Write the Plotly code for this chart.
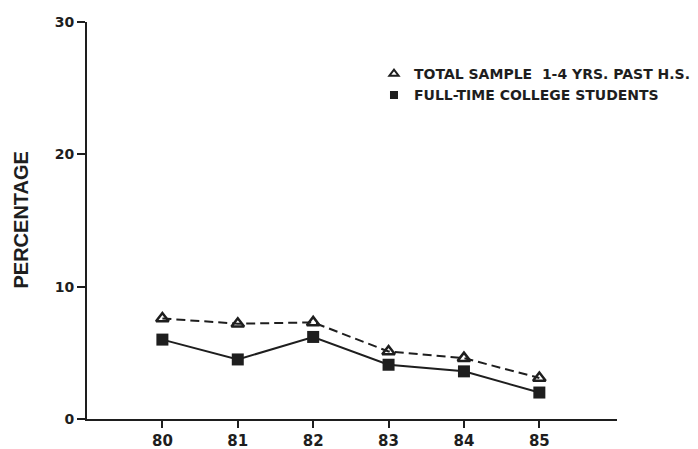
import plotly.graph_objects as go

years = [80, 81, 82, 83, 84, 85]
year_labels = ["80", "81", "82", "83", "84", "85"]
total_sample = [7.6, 7.2, 7.3, 5.1, 4.6, 3.1]
fulltime_college = [6.0, 4.5, 6.2, 4.1, 3.6, 2.0]
y_ticks = [0, 10, 20, 30]
name_total = "TOTAL SAMPLE  1-4 YRS. PAST H.S."
name_college = "FULL-TIME COLLEGE STUDENTS"

INK = "#1e1e1e"
WIDE = "DejaVu Sans"
NARROW = "Liberation Sans"

fig = go.Figure()
fig.add_trace(go.Scatter(
    x=years, y=total_sample, mode="lines+markers", showlegend=False,
    line=dict(color=INK, width=2, dash="9px,5px"),
    marker=dict(symbol="triangle-up-open", size=11, color=INK, line=dict(width=2.5, color=INK)),
))
fig.add_trace(go.Scatter(
    x=years, y=fulltime_college, mode="lines+markers", showlegend=False,
    line=dict(color=INK, width=2),
    marker=dict(symbol="square", size=12, color=INK),
))
# legend-only entries (symbol without line)
fig.add_trace(go.Scatter(
    x=[None], y=[None], mode="markers", name=name_total, legendgroup="a",
    marker=dict(symbol="triangle-up-open", size=8, color=INK, line=dict(width=2, color=INK)),
))
fig.add_trace(go.Scatter(
    x=[None], y=[None], mode="markers", name=name_college, legendgroup="b",
    marker=dict(symbol="square", size=8, color=INK),
))

fig.update_layout(
    width=698, height=449,
    margin=dict(l=87, r=81, t=22, b=30, autoexpand=False),
    paper_bgcolor="white", plot_bgcolor="white",
    font=dict(family=WIDE, color=INK, size=14, weight="bold"),
    showlegend=True,
    legend=dict(
        x=0.5415, y=0.909, xanchor="left", yanchor="top",
        font=dict(family=WIDE, size=14, color=INK, weight="bold"),
        bgcolor="rgba(0,0,0,0)", tracegroupgap=0, traceorder="grouped",
    ),
    annotations=[dict(
        text="PERCENTAGE", x=(20 - 87) / 530, y=0.5, xref="paper", yref="paper",
        textangle=-90, showarrow=False, xanchor="center", yanchor="middle",
        font=dict(family=NARROW, size=20, color=INK, weight="bold"),
    )],
)
fig.update_xaxes(
    range=[79, 86.03], tickvals=years, ticktext=year_labels, automargin=False,
    showgrid=False, zeroline=False, showline=True, linecolor=INK, linewidth=2,
    ticks="outside", ticklen=7, tickwidth=2, tickcolor=INK,
    tickfont=dict(family=WIDE, size=15, color=INK, weight="bold"),
)
fig.update_yaxes(
    range=[0, 30], tickvals=y_ticks, automargin=False,
    showgrid=False, zeroline=False, showline=True, linecolor=INK, linewidth=2,
    ticks="outside", ticklen=8, tickwidth=2, tickcolor=INK,
    tickfont=dict(family=WIDE, size=14, color=INK, weight="bold"),
)

fig.write_html(
    "out.html",
    config={"displayModeBar": False},
    post_script="document.body.style.margin='0';",
)
